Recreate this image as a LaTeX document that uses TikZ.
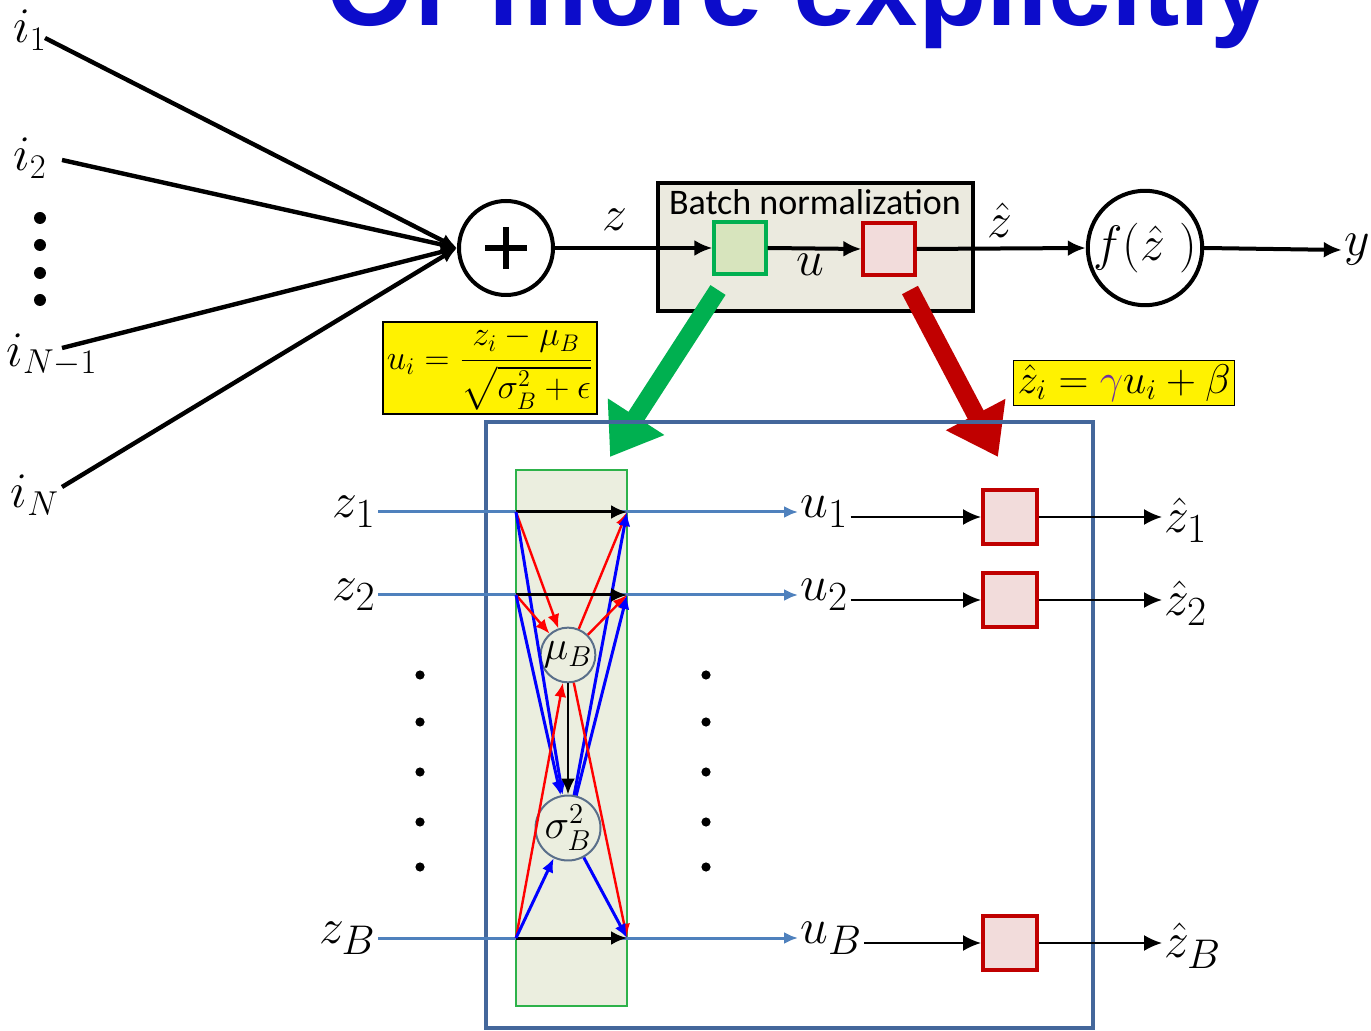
\documentclass[tikz,border=0pt]{standalone}
\usepackage{amsmath, amssymb}
\usepackage{fontspec}
\usepackage{xcolor}
\usepackage{tikz}
\usetikzlibrary{arrows.meta, positioning, calc}
\newfontfamily\titlefont{Liberation Sans}
\newfontfamily\boxfont{Carlito}

\begin{document}
\begin{tikzpicture}[x=0.5pt, y=-0.5pt,
  inlbl/.style={inner sep=1pt, font=\fontsize{24}{28}\selectfont},
  toplbl/.style={inner sep=1pt, font=\fontsize{24}{28}\selectfont},
  rowlbl/.style={inner sep=1pt, font=\fontsize{30}{34}\selectfont},
  inwire/.style={line width=2.2pt, -{Latex[length=8pt, width=7pt]}},
  mainwire/.style={line width=2pt, -{Latex[length=9pt, width=8pt]}},
  sumnode/.style={circle, draw, line width=2pt, minimum size=47pt, inner sep=0pt},
  gbox/.style={draw=greenline, fill=greenfill, line width=1.6pt, minimum size=26pt, inner sep=0pt},
  rbox/.style={draw=redline, fill=redfill, line width=1.6pt, minimum size=26pt, inner sep=0pt},
  yellowbox/.style={draw, fill=yellow, line width=0.8pt, inner sep=2pt},
  bigarrow/.style={line width=9pt, -{Triangle[length=24pt, width=32pt]}},
  zwire/.style={draw=zblue, line width=1.5pt, -{Latex[length=7pt, width=6pt]}},
  colarr/.style={line width=1.5pt, -{Latex[length=8pt, width=7pt]}},
  redarr/.style={draw=red, line width=1.2pt, -{Latex[length=7pt, width=6pt]}},
  bluearr/.style={draw=blue, line width=1.5pt, -{Latex[length=7pt, width=6pt]}},
  statnode/.style={circle, draw=statedge, fill=colfill, line width=1pt, minimum size=27pt, inner sep=0pt, font=\fontsize{22}{26}\selectfont},
  thinarr/.style={line width=1pt, -{Latex[length=9pt, width=8pt]}}
]
% --- cores
\definecolor{titleblue}{HTML}{0C0CCB}
\definecolor{frameblue}{HTML}{44679B}
\definecolor{zblue}{HTML}{4F81BD}
\definecolor{greenline}{HTML}{00B050}
\definecolor{redline}{HTML}{C00000}
\definecolor{bnfill}{HTML}{EBEADF}
\definecolor{greenfill}{HTML}{D7E4BD}
\definecolor{redfill}{HTML}{F2DCDB}
\definecolor{colfill}{HTML}{EBEEDF}
\definecolor{colgreen}{HTML}{2DB24A}
\definecolor{statedge}{HTML}{5A6F8A}
\definecolor{gammapurple}{HTML}{7030A0}

\useasboundingbox (0,0) rectangle (1371,1031);

% LAYER 1: titulo cortado no topo
\node[anchor=base, text=titleblue, font=\titlefont\bfseries\fontsize{56}{60}\selectfont] (title) at (800,26) {Or more explicitly};

% LAYER 2: entradas e somador
\node[inlbl] (i1) at (30,30) {$i_1$};
\node[inlbl] (i2) at (30,158) {$i_2$};
\node[inlbl] (iN1) at (52,355) {$i_{N-1}$};
\node[inlbl] (iN) at (35,495) {$i_N$};
\foreach \y in {218,245,273,300}
  \fill (40,\y) circle (3pt);
\node[sumnode] (sum) at (506,248) {};
\draw[line width=2.6pt] ($(sum.center)+(-21,0)$) -- ($(sum.center)+(21,0)$);
\draw[line width=2.6pt] ($(sum.center)+(0,-21)$) -- ($(sum.center)+(0,21)$);
\coordinate (s1) at (45,38);
\coordinate (s2) at (62,160);
\coordinate (s3) at (62,348);
\coordinate (s4) at (62,487);
\foreach \s in {s1,s2,s3,s4}
  \draw[inwire] (\s) -- (sum.west);

% LAYER 3: bloco de batch normalization
\node[draw, fill=bnfill, line width=2pt, minimum width=157.5pt, minimum height=64pt] (bn) at (815.5,247) {};
\node[font=\boxfont\fontsize{18}{20}\selectfont] (bntitle) at (815,202) {Batch normalization};
\node[gbox] (gb) at (740,248) {};
\node[rbox] (rb) at (889,249) {};
\node[sumnode, minimum size=53pt, font=\fontsize{24}{28}\selectfont] (fn) at (1145,248) {$f(\hat{z}\;)$};
\node[inlbl] (y) at (1357,250) {$y$};
\node[toplbl] (zlbl) at (615,220) {$z$};
\node[toplbl] (ulbl) at (810,265) {$u$};
\node[toplbl] (zhlbl) at (1000,220) {$\hat{z}$};
\draw[mainwire] (sum.east) -- (gb.west);
\draw[mainwire] (gb.east) -- (rb.west);
\draw[mainwire] (rb.east) -- (fn.west);
\draw[mainwire] (fn.east) -- (y.west);

% LAYER 4: formulas e setas grandes
\node[yellowbox, font=\fontsize{18}{22}\selectfont] (eq1) at (490,368) {$u_i = \dfrac{z_i-\mu_B}{\sqrt{\sigma_B^2+\epsilon}}$};
\node[yellowbox, font=\fontsize{21}{25}\selectfont] (eq2) at (1124,383) {$\hat{z}_i = {\color{gammapurple}\gamma} u_i + \beta$};
\coordinate (gtail) at (718,290);
\coordinate (gtip) at (610,457);
\coordinate (rtail) at (910,290);
\coordinate (rtip) at (998,457);
\draw[bigarrow, greenline] (gtail) -- (gtip);
\draw[bigarrow, redline] (rtail) -- (rtip);

% LAYER 5: moldura e coluna do mini-batch
\draw[frameblue, line width=2pt] (486,422) rectangle (1093,1028);
\draw[fill=colfill, draw=colgreen, line width=1pt] (516,470) rectangle (627,1006);
\node[statnode] (mu) at (568,655) {$\mu_B$};
\node[statnode] (sig) at (568,828) {$\sigma_B^2$};
\foreach \y in {675,722,772,822,867} {
  \fill (420,\y) circle (2.3pt);
  \fill (706,\y) circle (2.3pt);
}

% LAYER 6: linhas de cada exemplo
\foreach \k/\y in {1/512,2/595,B/938} {
  \coordinate (L\k) at (516,\y);
  \coordinate (R\k) at (627,\y);
  \node[rowlbl, anchor=east] (z\k) at (378,\y) {$z_{\k}$};
  \node[rowlbl, anchor=west] (u\k) at (798,\y) {$u_{\k}$};
  \node[rbox, line width=2pt, minimum size=27pt] (box\k) at (1010,\y+5) {};
  \node[rowlbl, anchor=west] (zh\k) at (1162,\y+8) {$\hat{z}_{\k}$};
  \draw[zwire] (z\k.east |- L\k) -- (u\k.west |- L\k);
  \draw[colarr] (L\k) -- (R\k);
  \draw[redarr] (L\k) -- (mu);
  \draw[redarr] (mu) -- (R\k);
  \draw[bluearr] (L\k) -- (sig);
  \draw[bluearr] (sig) -- (R\k);
  \draw[thinarr] (u\k.east |- box\k) -- (box\k.west);
  \draw[thinarr] (box\k.east) -- (box\k.east -| zh\k.west);
}
\draw[colarr, line width=1.3pt] (mu) -- (sig);
\end{tikzpicture}
\end{document}
